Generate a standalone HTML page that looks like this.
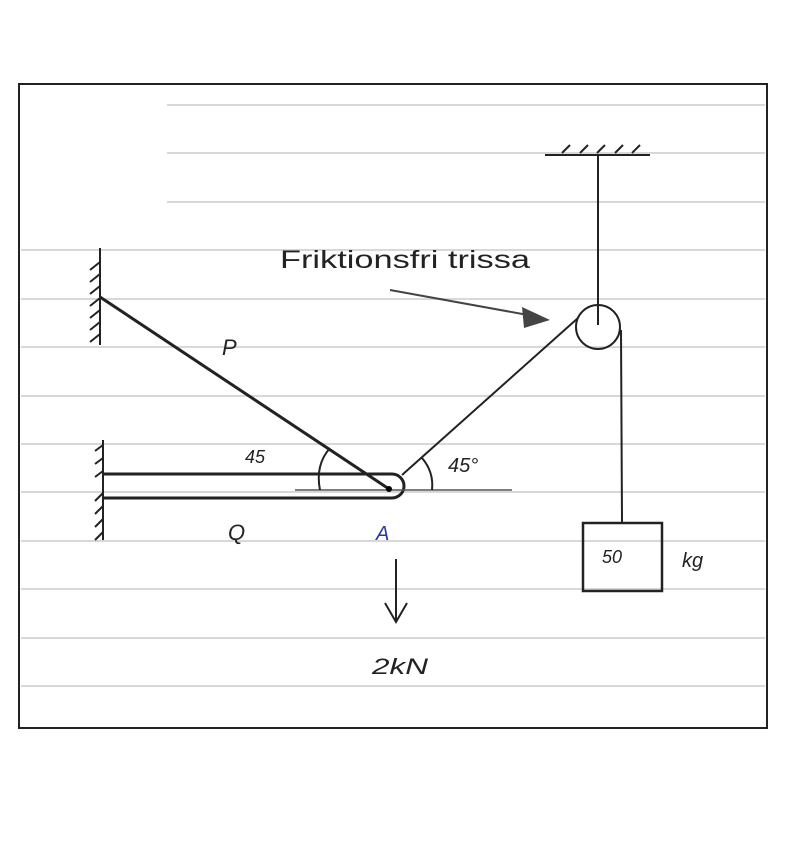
<!DOCTYPE html>
<html><head><style>body{margin:0;background:#fff}</style></head><body>
<svg width="800" height="837" viewBox="0 0 800 837" xmlns="http://www.w3.org/2000/svg" font-family="Liberation Sans, sans-serif">
<rect x="19" y="84" width="748" height="644" fill="#fff" stroke="#222" stroke-width="2"/>
<g stroke="#d8d8d8" stroke-width="2">
<line x1="167" y1="105" x2="765" y2="105"/>
<line x1="167" y1="153" x2="765" y2="153"/>
<line x1="167" y1="202" x2="765" y2="202"/>
<line x1="21" y1="250" x2="765" y2="250"/>
<line x1="21" y1="299" x2="765" y2="299"/>
<line x1="21" y1="347" x2="765" y2="347"/>
<line x1="21" y1="396" x2="765" y2="396"/>
<line x1="21" y1="444" x2="765" y2="444"/>
<line x1="21" y1="492" x2="765" y2="492"/>
<line x1="21" y1="541" x2="765" y2="541"/>
<line x1="21" y1="589" x2="765" y2="589"/>
<line x1="21" y1="638" x2="765" y2="638"/>
<line x1="21" y1="686" x2="765" y2="686"/>
</g>
<g stroke="#222" fill="none" stroke-width="2">
<line x1="100" y1="248" x2="100" y2="345"/>
<path d="M100 262 l-10 8 M100 274 l-10 8 M100 286 l-10 8 M100 298 l-10 8 M100 310 l-10 8 M100 322 l-10 8 M100 334 l-10 8"/>
<line x1="103" y1="440" x2="103" y2="540"/>
<path d="M103 445 l-8 6 M103 458 l-8 6 M103 471 l-8 6 M103 493 l-8 8 M103 506 l-8 8 M103 519 l-8 8 M103 532 l-8 8"/>
<line x1="100" y1="297" x2="389" y2="489" stroke-width="3"/>
<path d="M104 474 H392 A12 12 0 0 1 392 498 H104" stroke-width="3"/>
<line x1="295" y1="490" x2="512" y2="490" stroke="#555" stroke-width="1.5"/>
<path d="M320 490 Q315 465 330 448"/>
<path d="M432 490 Q434 472 422 458"/>
<line x1="402" y1="475" x2="578" y2="318"/>
<circle cx="598" cy="327" r="22"/>
<line x1="598" y1="155" x2="598" y2="325"/>
<line x1="545" y1="155" x2="650" y2="155"/>
<path d="M562 153 l8 -8 M580 153 l8 -8 M597 153 l8 -8 M615 153 l8 -8 M632 153 l8 -8"/>
<line x1="621" y1="330" x2="622" y2="522"/>
<rect x="583" y="523" width="79" height="68" stroke-width="2.5"/>
<line x1="390" y1="290" x2="528" y2="315" stroke="#444"/>
<line x1="396" y1="559" x2="396" y2="622"/>
<path d="M385 603 L396 622 L407 603"/>
</g>
<polygon points="550,320 522,307 524,328" fill="#444"/>
<circle cx="389" cy="489" r="3" fill="#000"/>
<text x="280" y="268" font-size="25" fill="#222" textLength="250" lengthAdjust="spacingAndGlyphs">Friktionsfri trissa</text>
<g fill="#222" font-size="22" font-style="italic">
<text x="222" y="355">P</text>
<text x="245" y="463" font-size="18">45</text>
<text x="448" y="472" font-size="20">45°</text>
<text x="228" y="540">Q</text>
<text x="376" y="540" fill="#2a3a9a" font-size="20">A</text>
<text x="372" y="674" textLength="56" lengthAdjust="spacingAndGlyphs">2kN</text>
<text x="602" y="563" font-size="18">50</text>
<text x="682" y="567" font-size="20">kg</text>
</g>
</svg>
</body></html>
